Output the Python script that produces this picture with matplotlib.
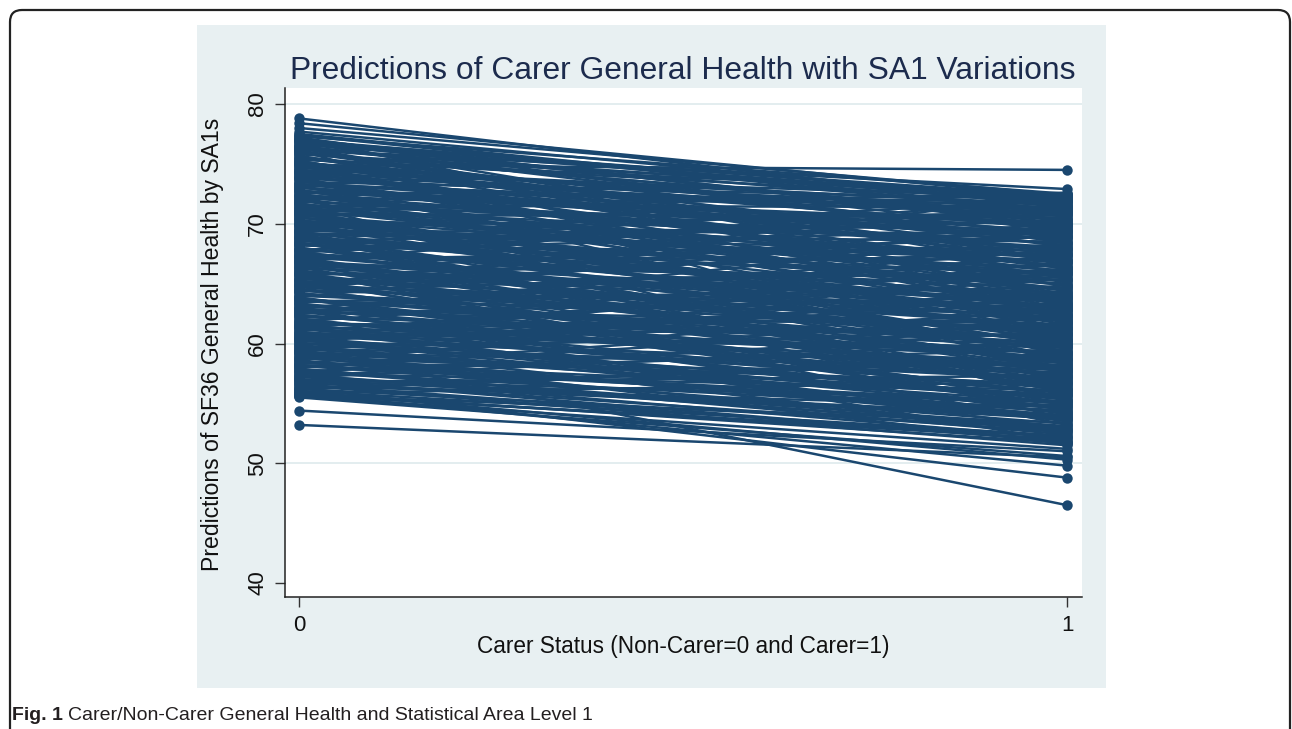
import matplotlib
matplotlib.use("Agg")
import matplotlib.pyplot as plt
from matplotlib.patches import FancyBboxPatch, Rectangle
from matplotlib.transforms import IdentityTransform

# predicted SF36 general health per SA1: non-carer (x=0) and carer (x=1)
non_carer = [
    78.8, 78.4, 78.0, 77.7, 77.4, 77.3, 77.1, 76.9, 76.2, 74.9,
    77.0, 76.8, 76.6, 76.5, 76.3, 76.1, 75.9, 75.8, 75.6, 75.4,
    75.2, 75.1, 74.9, 74.7, 74.5, 74.4, 74.2, 74.0, 73.8, 73.7,
    73.5, 73.3, 73.1, 73.0, 72.8, 72.6, 72.4, 72.3, 72.1, 71.9,
    71.7, 71.6, 71.4, 71.2, 71.0, 70.8, 70.7, 70.5, 70.3, 70.1,
    70.0, 69.8, 69.6, 69.4, 69.3, 69.1, 68.9, 68.7, 68.6, 68.4,
    68.2, 68.0, 67.9, 67.7, 67.5, 67.3, 67.2, 67.0, 66.8, 66.6,
    66.5, 66.3, 66.1, 65.9, 65.8, 65.6, 65.4, 65.2, 65.1, 64.9,
    64.7, 64.5, 64.4, 64.2, 64.0, 63.8, 63.7, 63.5, 63.3, 63.1,
    63.0, 62.8, 62.6, 62.4, 62.3, 62.1, 61.9, 61.7, 61.6, 61.4,
    61.2, 61.0, 60.9, 60.7, 60.5, 60.3, 60.2, 60.0, 59.8, 59.6,
    59.5, 59.3, 59.1, 58.9, 58.8, 58.6, 58.4, 58.2, 58.1, 57.9,
    57.7, 57.6, 57.4, 57.2, 57.0, 56.9, 56.7, 56.5, 56.3, 56.2,
    56.0, 55.9, 55.8, 55.7, 55.6, 55.5, 54.4, 53.2, 66.9, 71.1,
    55.65, 55.85, 56.05, 56.25, 56.45, 56.6, 56.8, 57.0, 57.15, 57.35,
    57.5, 57.7, 57.85, 58.0, 58.2, 58.35, 58.5, 58.7, 58.85, 59.0,
    59.2, 59.4, 59.55, 59.7, 59.9, 60.05, 60.2, 60.4, 60.55, 60.7,
    60.9, 61.05, 61.2, 61.4, 61.55, 61.7, 61.85, 62.0, 62.2, 62.35,
    62.5, 62.7, 62.85, 63.0, 63.2, 63.35, 63.5, 63.7, 63.85, 64.0,
    64.2, 64.35, 64.5, 64.7, 64.85, 65.0, 65.2, 65.35, 65.5, 65.7,
    65.85, 66.0, 66.2, 66.35, 66.5, 66.7, 66.85, 67.0, 67.2, 67.35,
    67.5, 67.7, 67.85, 68.0, 68.2, 68.35, 68.5, 68.7, 68.85, 69.0,
    69.2, 69.35, 69.5, 69.7, 69.85, 70.0, 70.2, 70.35, 70.5, 70.7,
    70.85, 71.0, 71.2, 71.35, 71.5, 71.7, 71.85, 72.0, 72.2, 72.35,
    72.5, 72.7, 72.85, 73.0, 73.2, 73.35, 73.5, 73.7, 73.85, 74.0,
    74.2, 74.35, 74.5, 74.7, 74.85, 75.0, 75.2, 75.35, 75.5, 75.7,
    75.85, 76.0, 76.2, 76.35, 76.5, 76.7, 76.85, 77.0, 77.2, 77.5,
    56.15, 57.25, 58.3, 59.35, 60.45, 61.5, 62.55, 63.6, 64.65, 65.75,
    66.75, 67.8, 68.9, 69.95, 71.05, 72.1, 73.15, 74.25, 75.3, 76.4,
    55.75, 56.95, 58.05, 59.25, 60.35, 61.45, 62.65, 63.75, 64.95, 66.05,
    67.15, 68.25, 69.45, 70.55, 71.65, 72.75, 73.95, 75.05, 76.15, 77.25,
    60.6, 63.9, 65.3, 67.6, 69.15, 70.95, 62.95, 58.65, 64.4, 68.45,
]
carer = [
    71.3, 72.2, 72.4, 71.8, 70.9, 72.5, 69.8, 72.1, 72.9, 74.5,
    71.6, 70.2, 72.0, 68.9, 71.2, 67.5, 70.6, 72.3, 69.1, 71.9,
    66.8, 70.4, 68.2, 71.5, 65.9, 69.7, 72.2, 67.4, 70.9, 64.8,
    68.6, 71.1, 66.3, 69.4, 63.7, 70.1, 67.9, 65.2, 71.7, 68.0,
    62.9, 66.7, 69.9, 64.4, 67.2, 61.8, 70.7, 65.6, 63.3, 68.8,
    66.1, 60.7, 64.9, 69.2, 62.4, 67.7, 59.9, 65.0, 63.8, 61.2,
    66.4, 60.3, 63.1, 58.8, 64.6, 61.9, 67.0, 59.4, 62.7, 65.3,
    57.9, 63.5, 60.1, 64.1, 58.3, 61.5, 62.2, 56.9, 65.9, 59.6,
    60.9, 57.2, 63.0, 58.5, 61.1, 56.4, 59.1, 62.5, 57.7, 60.4,
    55.8, 58.0, 61.4, 56.7, 59.8, 54.9, 57.5, 60.6, 55.3, 58.9,
    56.2, 54.6, 59.3, 57.1, 55.5, 53.9, 58.2, 56.0, 54.2, 57.8,
    46.5, 55.1, 53.6, 56.5, 54.0, 52.8, 55.7, 53.3, 54.8, 52.4,
    53.1, 54.4, 52.1, 53.7, 51.8, 52.6, 53.9, 51.5, 48.8, 52.9,
    50.3, 51.7, 49.8, 52.2, 51.2, 50.6, 51.0, 50.5, 72.1, 72.6,
    53.4, 56.8, 52.3, 58.6, 54.7, 51.9, 57.3, 55.2, 60.2, 53.0,
    56.1, 59.5, 52.7, 61.7, 55.0, 57.6, 54.3, 62.8, 56.6, 53.8,
    58.1, 64.2, 55.4, 60.8, 52.5, 57.0, 63.4, 54.5, 59.7, 61.3,
    56.3, 65.4, 58.4, 53.5, 62.0, 59.2, 66.2, 55.9, 60.5, 57.4,
    63.9, 54.1, 61.6, 67.3, 58.7, 56.8, 64.7, 60.0, 55.6, 62.1,
    59.0, 66.6, 57.3, 63.2, 68.3, 61.0, 55.0, 64.3, 60.2, 67.6,
    58.6, 62.6, 69.0, 56.0, 65.5, 60.6, 63.6, 68.1, 57.6, 66.0,
    61.3, 69.6, 64.0, 59.3, 67.4, 62.3, 70.3, 58.0, 65.7, 63.0,
    68.5, 60.9, 66.9, 71.0, 62.8, 64.6, 69.5, 59.7, 67.1, 65.8,
    70.5, 61.6, 68.4, 66.5, 71.4, 63.5, 69.3, 60.4, 67.8, 70.0,
    64.5, 71.8, 62.1, 68.7, 70.8, 66.0, 72.0, 63.2, 69.0, 71.3,
    67.6, 65.1, 71.6, 69.6, 62.5, 70.3, 66.9, 72.4, 68.1, 64.1,
    70.7, 67.0, 71.9, 63.9, 69.4, 72.3, 66.2, 70.0, 68.4, 71.1,
    59.0, 61.1, 64.9, 55.7, 66.8, 57.9, 69.2, 59.9, 70.1, 56.5,
    60.0, 71.2, 56.2, 62.0, 58.8, 64.0, 60.8, 66.4, 62.9, 65.4,
    52.0, 54.0, 62.4, 51.6, 63.8, 52.9, 67.9, 54.9, 71.5, 53.2,
    57.0, 72.1, 53.7, 61.4, 55.3, 68.9, 58.4, 61.7, 57.4, 63.1,
    65.9, 69.8, 54.4, 70.9, 57.8, 59.1, 51.8, 66.3, 72.5, 55.9,
]
x_ticks = [0, 1]
y_ticks = [40, 50, 60, 70, 80]

NAVY = "#1A476F"
PANEL = "#E8F0F2"
W, H = 1292, 729

plt.rcParams["font.family"] = ["Liberation Sans", "DejaVu Sans"]

fig = plt.figure(figsize=(W / 100, H / 100), dpi=100)
fig.patch.set_facecolor("white")

# outer rounded frame (pixel coords, bottom runs off the page)
frame = FancyBboxPatch((10, -40), 1280, H - 10 + 40, boxstyle="round,pad=0,rounding_size=12",
                       transform=IdentityTransform(), facecolor="none", edgecolor="#222222",
                       linewidth=1.6, zorder=-2)
fig.patches.append(frame)

# stata graph region, behind the axes
fig.patches.append(Rectangle((197 / W, 1 - 688 / H), (1106 - 197) / W, (688 - 25) / H,
                             transform=fig.transFigure, facecolor=PANEL, edgecolor="none",
                             zorder=-1))

ax = fig.add_axes([285 / W, 1 - 597 / H, (1082 - 285) / W, (597 - 88) / H])
ax.set_facecolor("white")

for a, b in zip(non_carer, carer):
    ax.plot([0, 1], [a, b], color=NAVY, linewidth=1.8, marker="o", markersize=7.5,
            markeredgewidth=0, solid_capstyle="butt", zorder=3)

ax.set_xlim(-0.0182, 1.0195)
ax.set_ylim(38.83, 81.34)
ax.set_xticks(x_ticks)
ax.set_yticks(y_ticks)
ax.set_xticklabels([str(v) for v in x_ticks])
ax.set_yticklabels([str(v) for v in y_ticks], rotation=90, va="center")

for v in y_ticks[1:]:
    ax.axhline(v, color="#E0ECEE", linewidth=1.3, zorder=1)

for s in ["top", "right"]:
    ax.spines[s].set_visible(False)
for s in ["left", "bottom"]:
    ax.spines[s].set_color("#222222")
    ax.spines[s].set_linewidth(1.1)

ax.tick_params(axis="both", length=7.2, width=1.0, color="#333333", labelsize=16,
               labelcolor="#111111")
ax.tick_params(axis="y", pad=5)
ax.tick_params(axis="x", pad=6)

fig.text(683 / W, 1 - 79 / H, "Predictions of Carer General Health with SA1 Variations",
         ha="center", va="baseline", fontsize=22.9, color="#1C2B4D")
fig.text(212 / W, 1 - 344 / H, "Predictions of SF36 General Health by SA1s", rotation=90,
         ha="center", va="center", fontsize=16.6, color="#111111")
fig.text(683 / W, 1 - 646 / H, "Carer Status (Non-Carer=0 and Carer=1)",
         ha="center", va="center", fontsize=16.3, color="#111111")

# caption below the graph
bold = fig.text(12 / W, 1 - 720 / H, "Fig. 1", ha="left", va="baseline", fontsize=14,
                fontweight="bold", color="#231F20")
r = fig.canvas.get_renderer()
bb = bold.get_window_extent(renderer=r)
fig.text((bb.x1 + 5) / W, 1 - 720 / H, "Carer/Non-Carer General Health and Statistical Area Level 1",
         ha="left", va="baseline", fontsize=14, color="#231F20")

fig.savefig("out.png", dpi=100)
